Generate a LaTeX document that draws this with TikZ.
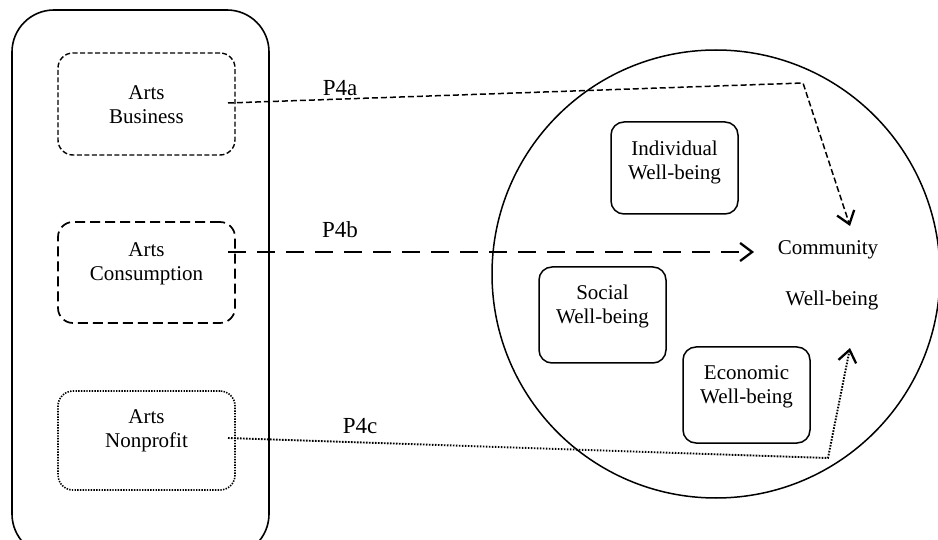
\documentclass[tikz,border=0pt]{standalone}
\usepackage{fontspec}
\setmainfont{Liberation Serif}
\usetikzlibrary{arrows.meta}
\begin{document}
\begin{tikzpicture}[x=1pt,y=-1pt,
  txt/.style={font=\fontsize{21}{24}\selectfont, align=center, inner sep=0pt},
  lbl/.style={font=\fontsize{23}{26}\selectfont, inner sep=0pt},
  abox/.style={draw, line width=1.4pt, rounded corners=15pt, minimum width=177pt, inner sep=0pt},
  wbox/.style={draw, line width=1.5pt, rounded corners=13pt, minimum width=127pt, inner sep=0pt},
  barb/.style={-{Straight Barb[length=12pt,width=18pt,line width=2.3pt]}},
  dashA/.style={line width=1.5pt, dash pattern=on 6pt off 3pt},
  dashB/.style={line width=2.8pt, dash pattern=on 18pt off 11pt},
  dotC/.style={line width=1.9pt, dash pattern=on 1.6pt off 1.4pt},
]
\useasboundingbox (0,0) rectangle (938,540);
% outer container
\draw[line width=1.6pt, rounded corners=42pt] (12,10) rectangle (269,556);
% left boxes
\node[abox, minimum height=102pt, dash pattern=on 5pt off 2.5pt] (bus) at (146.5,104) {};
\node[abox, minimum height=101pt, line width=1.7pt, dash pattern=on 10pt off 5pt] (con) at (146.5,272.5) {};
\node[abox, minimum height=99pt, line width=1.6pt, dash pattern=on 1.4pt off 1.3pt] (non) at (146.5,440.5) {};
\node[txt] (bust) at (146.5,105) {Arts\\Business};
\node[txt] (cont) at (146.5,264) {Arts\\Consumption};
\node[txt] (nont) at (146.5,431) {Arts\\Nonprofit};
% circle
\node[draw, circle, line width=1.5pt, minimum size=448pt, inner sep=0pt] (cw) at (716,274) {};
% inner boxes
\node[wbox, minimum height=92pt] (ind) at (674.5,168) {};
\node[txt] (indt) at (674.5,162) {Individual\\Well-being};
\node[wbox, minimum height=96pt] (soc) at (602.5,315) {};
\node[txt] (soct) at (602.5,306) {Social\\Well-being};
\node[wbox, minimum height=96pt] (eco) at (746.5,395) {};
\node[txt] (ecot) at (746.5,387) {Economic\\Well-being};
\node[txt] (comm) at (828,250) {Community};
\node[txt] (commw) at (832,300) {Well-being};
% connectors
\coordinate (a0) at (228,103);
\coordinate (a1) at (803,83);
\coordinate (a2) at (850,226);
\coordinate (b0) at (228,252);
\coordinate (b1) at (754,252);
\coordinate (c0) at (228,438);
\coordinate (c1) at (828,458);
\coordinate (c2) at (850,348);
\draw[dashA, barb] (a0) -- (a1) -- (a2);
\draw[dashB, barb] (b0) -- (b1);
\draw[dotC, barb] (c0) -- (c1) -- (c2);
\node[lbl] (p4a) at (340,88) {P4a};
\node[lbl] (p4b) at (340,230) {P4b};
\node[lbl] (p4c) at (360,426) {P4c};
\end{tikzpicture}
\end{document}
